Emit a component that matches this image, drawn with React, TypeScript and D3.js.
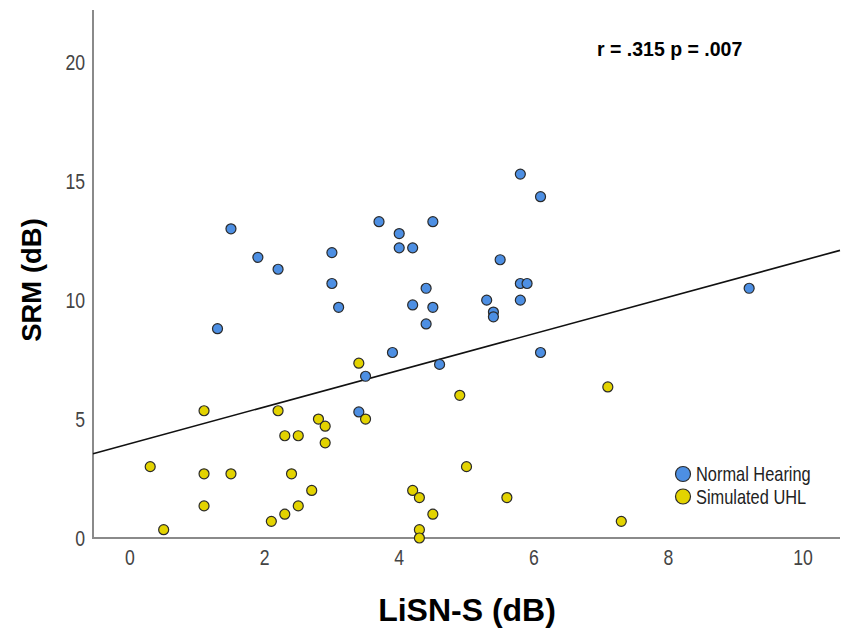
import React, { useEffect, useRef } from 'react';
import * as d3 from 'd3';

// LiSN-S (x) vs SRM (y)
const normalX = [1.5, 1.9, 2.2, 1.3, 3.0, 3.0, 3.1, 3.7, 4.0, 4.0, 4.2, 4.5, 4.4, 4.2, 4.5, 4.4, 3.9, 4.6, 3.5, 3.4, 5.8, 6.1, 5.5, 5.8, 5.9, 5.3, 5.8, 5.4, 5.4, 6.1, 9.2];
const normalY = [13.0, 11.8, 11.3, 8.8, 12.0, 10.7, 9.7, 13.3, 12.8, 12.2, 12.2, 13.3, 10.5, 9.8, 9.7, 9.0, 7.8, 7.3, 6.8, 5.3, 15.3, 14.35, 11.7, 10.7, 10.7, 10.0, 10.0, 9.5, 9.3, 7.8, 10.5];

const uhlX = [1.1, 2.2, 2.8, 2.9, 2.3, 2.5, 2.9, 0.3, 1.1, 1.5, 2.4, 2.7, 1.1, 2.5, 2.3, 2.1, 0.5, 3.4, 4.9, 7.1, 3.5, 5.0, 4.2, 4.3, 5.6, 4.5, 4.3, 4.3, 7.3];
const uhlY = [5.35, 5.35, 5.0, 4.7, 4.3, 4.3, 4.0, 3.0, 2.7, 2.7, 2.7, 2.0, 1.35, 1.35, 1.0, 0.7, 0.35, 7.35, 6.0, 6.35, 5.0, 3.0, 2.0, 1.7, 1.7, 1.0, 0.35, 0.0, 0.7];

const xTicks = [0, 2, 4, 6, 8, 10];
const yTicks = [0, 5, 10, 15, 20];

// fit line as drawn in the figure
const fitIntercept = 3.97;
const fitSlope = 0.77;

const groups = [
  { name: 'Normal Hearing', xs: normalX, ys: normalY, color: '#4d8fe3' },
  { name: 'Simulated UHL', xs: uhlX, ys: uhlY, color: '#e3d300' },
];

const W = 845;
const H = 641;
const font = 'Arial, "Liberation Sans", sans-serif';
const narrow = 0.82; // labels are set in a condensed face

export default function App() {
  const ref = useRef<SVGSVGElement>(null);

  useEffect(() => {
    const svg = d3.select(ref.current);
    svg.selectAll('*').remove();

    const x = d3.scaleLinear().domain([-0.55, 10.55]).range([93, 840]);
    const y = d3.scaleLinear().domain([0, 22.2]).range([538, 10]);

    // axis lines
    svg.append('line')
      .attr('x1', 93).attr('x2', 93).attr('y1', 10).attr('y2', 538)
      .attr('stroke', '#8a8a8a').attr('stroke-width', 2);
    svg.append('line')
      .attr('x1', 92).attr('x2', 840).attr('y1', 538).attr('y2', 538)
      .attr('stroke', '#8a8a8a').attr('stroke-width', 2);

    svg.append('g')
      .selectAll('text')
      .data(xTicks)
      .join('text')
        .attr('transform', d => `translate(${x(d)},565) scale(${narrow},1)`)
        .attr('text-anchor', 'middle')
        .attr('font-family', font)
        .attr('font-size', 21.5)
        .attr('fill', '#444')
        .text(d => d);

    svg.append('g')
      .selectAll('text')
      .data(yTicks)
      .join('text')
        .attr('transform', d => `translate(85,${y(d) + 8}) scale(${narrow},1)`)
        .attr('text-anchor', 'end')
        .attr('font-family', font)
        .attr('font-size', 21.5)
        .attr('fill', '#444')
        .text(d => d);

    // titles
    svg.append('text')
      .attr('x', 467).attr('y', 621)
      .attr('text-anchor', 'middle')
      .attr('font-family', font)
      .attr('font-weight', 'bold')
      .attr('font-size', 32)
      .attr('fill', '#000')
      .text('LiSN-S (dB)');
    svg.append('text')
      .attr('transform', 'translate(41,280) rotate(-90)')
      .attr('text-anchor', 'middle')
      .attr('font-family', font)
      .attr('font-weight', 'bold')
      .attr('font-size', 27.5)
      .attr('fill', '#000')
      .text('SRM (dB)');

    svg.append('text')
      .attr('x', 597).attr('y', 56)
      .attr('font-family', font)
      .attr('font-weight', 'bold')
      .attr('font-size', 19.5)
      .attr('fill', '#000')
      .text('r = .315 p = .007');

    // regression line
    const [x0, x1] = x.domain();
    svg.append('line')
      .attr('x1', x(x0)).attr('y1', y(fitIntercept + fitSlope * x0))
      .attr('x2', x(x1)).attr('y2', y(fitIntercept + fitSlope * x1))
      .attr('stroke', '#111').attr('stroke-width', 1.6);

    groups.forEach(g => {
      svg.append('g')
        .selectAll('circle')
        .data(g.xs.map((v, i) => [v, g.ys[i]]))
        .join('circle')
          .attr('cx', d => x(d[0]))
          .attr('cy', d => y(d[1]))
          .attr('r', 5)
          .attr('fill', g.color)
          .attr('stroke', '#2a2a2a')
          .attr('stroke-width', 1.2);
    });

    // legend
    const legend = svg.append('g').attr('transform', 'translate(683,474)');
    groups.forEach((g, i) => {
      legend.append('circle')
        .attr('cx', 0).attr('cy', i * 22.5)
        .attr('r', 7.5)
        .attr('fill', g.color)
        .attr('stroke', '#2a2a2a').attr('stroke-width', 1.2);
      legend.append('text')
        .attr('transform', `translate(13,${i * 22.5 + 7}) scale(${narrow},1)`)
        .attr('font-family', font)
        .attr('font-size', 20)
        .attr('fill', '#222')
        .text(g.name);
    });
  }, []);

  return (
    <svg
      ref={ref}
      width={W}
      height={H}
      style={{ position: 'absolute', left: 0, top: 0, background: '#fff' }}
    />
  );
}
